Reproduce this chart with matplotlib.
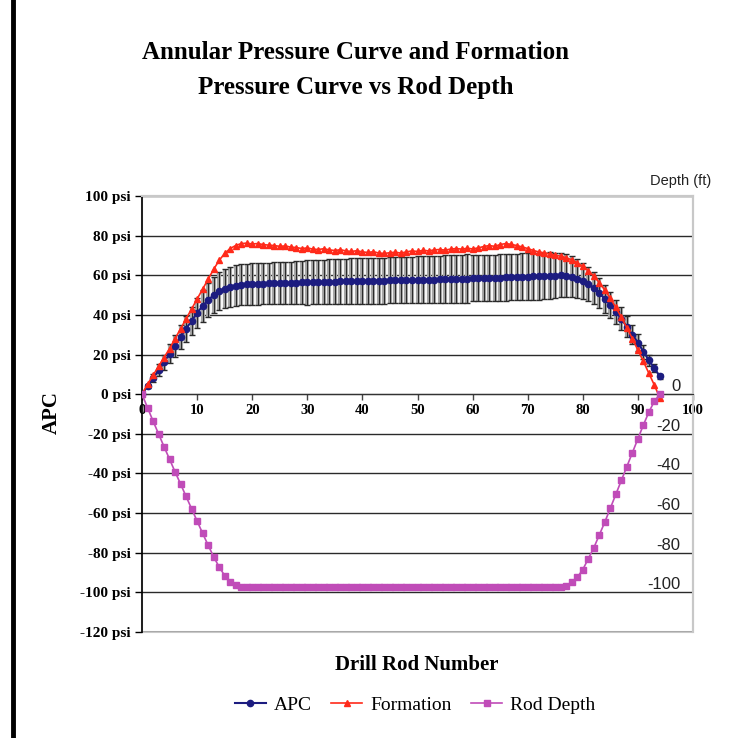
import numpy as np
import matplotlib.pyplot as plt
from matplotlib.lines import Line2D
from matplotlib.patches import Rectangle

# drill rod number 0..94
rods = list(range(95))

apc = [0, 4, 8, 12, 16, 20.5, 24.5, 29, 33, 37,
       41, 44.5, 47.5, 50, 52, 53.3, 54.2, 54.8, 55.2, 55.5,
       55.6, 55.7, 55.8, 55.9, 56.0, 56.0, 56.1, 56.2, 56.3, 56.4,
       56.4, 56.5, 56.6, 56.6, 56.7, 56.8, 56.9, 56.9, 57.0, 57.1,
       57.1, 57.2, 57.2, 57.3, 57.3, 57.4, 57.5, 57.5, 57.6, 57.6,
       57.7, 57.7, 57.8, 57.8, 57.9, 58.0, 58.0, 58.1, 58.2, 58.3,
       58.4, 58.4, 58.5, 58.6, 58.7, 58.8, 58.9, 59.0, 59.1, 59.2,
       59.3, 59.4, 59.5, 59.6, 59.7, 59.8, 60.0, 59.8, 59.2, 58.3,
       57.0, 55.5, 53.5, 51.0, 48.0, 45.0, 41.5, 38.0, 34.0, 30.0,
       26.0, 21.5, 17.0, 13.0, 9.0]

apc_err = [0, 1, 2, 3, 4, 5, 5.5, 6, 6.5, 7,
           7.5, 8, 8.5, 9, 9.5, 10, 10, 10.2, 10.3, 10.4,
           10.4, 10.5, 10.5, 10.5, 10.5, 10.6, 10.6, 10.6, 10.7, 10.7,
           11.2, 11.2, 11.3, 11.3, 11.3, 11.4, 11.4, 11.4, 11.5, 11.5,
           11.5, 11.5, 11.6, 11.6, 11.6, 11.6, 11.7, 11.7, 11.7, 11.7,
           11.8, 11.8, 11.8, 11.8, 11.9, 12.2, 12.2, 12.2, 12.2, 12.2,
           11.6, 11.6, 11.6, 11.6, 11.7, 11.7, 11.7, 11.7, 11.7, 11.8,
           11.8, 11.8, 11.8, 11.8, 11.8, 11.5, 11.2, 10.8, 10.3, 9.8,
           9.2, 8.6, 8.0, 7.5, 7.0, 6.6, 6.2, 5.8, 5.3, 4.8,
           4.2, 3.5, 2.8, 2.0, 1.2]

formation = [0, 5, 9.5, 14, 18.5, 23, 28, 33, 38, 43,
             48, 53, 58, 63, 67.5, 71, 73.5, 75, 76, 76.2,
             75.8, 76, 75.5, 75.2, 75, 74.6, 74.8, 74.2, 74, 73.5,
             73.8, 73.2, 73, 73.4, 72.8, 72.5, 72.9, 72.3, 72, 72.4,
             71.8, 71.5, 71.9, 71.2, 71, 71.4, 71.6, 71.2, 71.8, 72.3,
             72, 72.6, 72.3, 72.8, 73, 72.7, 73.2, 73.5, 73.2, 73.6,
             73.3, 73.8, 74.5, 75, 74.6, 75.5, 76, 75.6, 75, 74.3,
             73.5, 72.5, 71.8, 71.3, 70.8, 70.2, 69.6, 68.8, 67.8, 66.3,
             64.5, 62.3, 59.5, 56.3, 52.5, 48.3, 43.8, 38.8, 33.5, 28,
             22.3, 16.5, 10.5, 4.5, -2]

rod_depth = [0, -6.8, -13.5, -20, -26.5, -32.8, -39.2, -45.3, -51.6, -57.8,
             -64, -70.2, -76.2, -82, -87.2, -91.5, -94.7, -96.5, -97.3, -97.5,
             -97.5, -97.5, -97.5, -97.5, -97.5, -97.5, -97.5, -97.5, -97.5, -97.5,
             -97.5, -97.5, -97.5, -97.5, -97.5, -97.5, -97.5, -97.5, -97.5, -97.5,
             -97.5, -97.5, -97.5, -97.5, -97.5, -97.5, -97.5, -97.5, -97.5, -97.5,
             -97.5, -97.5, -97.5, -97.5, -97.5, -97.5, -97.5, -97.5, -97.5, -97.5,
             -97.5, -97.5, -97.5, -97.5, -97.5, -97.5, -97.5, -97.5, -97.5, -97.5,
             -97.5, -97.5, -97.5, -97.5, -97.5, -97.5, -97.3, -96.6, -95, -92.4,
             -88.5, -83, -77.5, -71, -64.5, -57.5, -50.5, -43.5, -36.5, -29.5,
             -22.5, -15.5, -9, -3.5, 0]

psi_ticks = list(range(-120, 101, 20))
depth_ticks = [0, -20, -40, -60, -80, -100]
x_ticks = list(range(0, 101, 10))

SERIF = 'Liberation Serif'
SANS = 'Liberation Sans'
plt.rcParams['font.family'] = SERIF

fig = plt.figure(figsize=(7.33, 7.38), dpi=100)
ax = fig.add_axes([142 / 733, 106 / 738, 551 / 733, 436 / 738])

# spine position first, it resets the ticks
ax.spines['bottom'].set_position(('data', 0))
ax.spines['bottom'].set_color('#333333')
ax.spines['left'].set_color('black')
ax.spines['left'].set_linewidth(1.2)
for s in ['top', 'right']:
    ax.spines[s].set_color('#c8c8c8')
    ax.spines[s].set_linewidth(1.5)
ax.add_patch(Rectangle((0, 0), 1, 1, transform=ax.transAxes, fill=False,
                       ec='#c8c8c8', lw=1.5, clip_on=False, zorder=0.5))

# error bars: grey body plus thin dark line and caps
ax.errorbar(rods, apc, yerr=apc_err, fmt='none', ecolor='#a8a8a8',
            elinewidth=3.0, capsize=0, zorder=1.8)
ax.errorbar(rods, apc, yerr=apc_err, fmt='none', ecolor='#2a2a2a',
            elinewidth=0.8, capsize=2.5, capthick=1.0, zorder=2)
ax.plot(rods, apc, color='#1c1c80', lw=1.5, marker='o', ms=4.5, zorder=3, label='APC')
ax.plot(rods, formation, color='#ff2a1a', lw=1.2, marker='^', ms=5, zorder=4,
        label='Formation')
ax.plot(rods, rod_depth, color='#c04cb8', lw=1.2, marker='s', ms=5, zorder=5,
        label='Rod Depth')

ax.set_xlim(0, 100)
ax.set_ylim(-120, 100)
ax.set_yticks(psi_ticks)
ax.set_yticklabels([f'{v} psi' for v in psi_ticks], fontweight='bold', fontsize=11)
ax.set_xticks(x_ticks)
ax.set_xticklabels([str(v) for v in x_ticks], fontweight='bold', fontsize=10.5)
ax.tick_params(axis='y', direction='out', length=5, width=1, color='black', pad=3)
ax.tick_params(axis='x', direction='out', length=4, width=1, color='#444444', pad=3)

ax.grid(axis='y', color='#2a2a2a', lw=1.0)
ax.set_axisbelow(True)

# secondary depth scale drawn inside the plot
ax2 = ax.twinx()
ax2.set_ylim(ax.get_ylim())
ax2.set_yticks(depth_ticks)
ax2.set_yticklabels([str(v) for v in depth_ticks], fontfamily=SANS, fontsize=12,
                    color='#222222')
ax2.tick_params(axis='y', length=0, pad=-9)
for lbl in ax2.get_yticklabels():
    lbl.set_horizontalalignment('right')
    lbl.set_verticalalignment('bottom')
for s in ax2.spines.values():
    s.set_visible(False)

fig.text(681 / 733, 1 - 181 / 738, 'Depth (ft)', fontfamily=SANS, fontsize=10.5,
         ha='center', va='center', color='#222222')

fig.text(356 / 733, 1 - 70 / 738,
         'Annular Pressure Curve and Formation\nPressure Curve vs Rod Depth',
         fontweight='bold', fontsize=18, ha='center', va='center', linespacing=1.65)
fig.text(52 / 733, 1 - 413 / 738, 'APC', fontweight='bold',
         fontsize=15, rotation=90, ha='center', va='center')
fig.text(417 / 733, 1 - 665 / 738, 'Drill Rod Number',
         fontweight='bold', fontsize=15, ha='center', va='center')

handles, labels = ax.get_legend_handles_labels()
fig.legend(handles, labels, loc='center', bbox_to_anchor=(415 / 733, 1 - 705 / 738),
           ncol=3, frameon=False, prop={'family': SERIF, 'size': 14},
           handlelength=1.6, handletextpad=0.4, columnspacing=1.0)

fig.add_artist(Line2D([12.5 / 733, 12.5 / 733], [0, 1], lw=3.5, color='black'))

fig.savefig('out.png', dpi=100)
